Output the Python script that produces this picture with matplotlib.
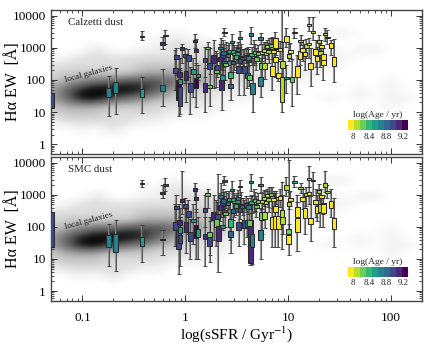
import numpy as np
import matplotlib
matplotlib.use("Agg")
import matplotlib.pyplot as plt
from matplotlib.colors import ListedColormap, BoundaryNorm
from matplotlib.cm import ScalarMappable
from matplotlib.ticker import LogLocator, FuncFormatter, NullFormatter

plt.rcParams['font.family'] = ['Liberation Serif', 'DejaVu Serif']
plt.rcParams['mathtext.fontset'] = 'stix'

density = [
 "0000000000000000000000000",
 "0000000000000000000000000",
 "0000000000000000000000000",
 "0000000010000000001100000",
 "0000000121100000000000000",
 "0002001122221111111011000",
 "0122222222222211111100000",
 "2222223333322211111000000",
 "2333334444332211110000000",
 "3456677765432211100000100",
 "4689998643221111000010100",
 "4699765432211100001010110",
 "3444333222110000000000100",
 "2333222211100000000000000",
 "1222221100000000000000000",
 "0010200000000000000000000",
 "0000000000000000000000000",
 "0000000000000000000000000",
 "0000000000000000000000000",
]

x_cal = [.05,.18,.21,.38,.6,.38,.6,.64,.82,.8,
         .93,1.0,1.07,.86,.89,.89,.88,1.01,1.12,1.24,
         1.2,1.27,1.27,1.33,1.55,1.55,1.72,1.72,1.65,1.88,
         2.0,2.25,2.3,2.15,2.2,2.3,2.05,2.4,2.45,2.5,
         2.74,2.75,2.4,2.9,2.85,3.0,3.3,3.75,3.4,3.5,
         4.0,4.5,4.2,4.35,4.1,4.7,4.9,5.4,5.4,5.5,
         5.9,6.0,6.5,7.0,7.0,7.5,7.5,8.0,8.7,8.8,
         9.6,9.6,10.2,10.9,10.5,11.5,13.2,12.3,13,13.8,
         15,14.5,16.5,16,16,17.5,18.5,19,20,20.5,
         22,21,22.8,22,24,26,28,5.5,6.2,6.8,
         7.6,2.6,3.1,3.6,3.9,
         2.35,2.65,3.25,4.4,4.8,5.1,5.8,6.4,7.2,8.3,
         2.2,2.9,3.4,3.2,4.1]
wlo_cal = [5,7.5,9,9.5,15,1700,900,1350,143,50,
           330,80,120,7.5,9,30,60,20,9,1000,
           30,300,14,100,10,120,150,15,300,55,
           60,12,80,150,350,200,120,250,100,400,
           60,24,2300,380,650,200,35,35,1100,320,
           55,10,65,1300,150,300,200,30,1300,110,
           110,300,350,50,450,400,120,90,10,100,
           1100,40,400,16,500,2000,1200,37,300,400,
           500,200,65,500,3400,1700,250,150,800,250,
           300,500,1600,100,1300,600,87,400,700,800,
           600,300,250,250,330,
           350,400,450,300,350,400,500,450,400,450,
           220,180,200,350,280]
q1_cal = [13,30,40,30,45,2150,1250,2400,440,165,
          840,510,385,24,15,75,125,100,43,1500,
          150,720,55,125,43,360,220,55,950,330,
          165,49,100,400,900,500,200,280,270,600,
          115,55,2900,700,1400,600,165,165,1850,430,
          115,37,100,2400,370,550,400,65,1800,220,
          220,600,750,130,900,1000,360,115,20,235,
          1480,110,500,85,700,2800,1500,125,450,750,
          1000,550,220,1200,4700,3000,600,400,1400,600,
          430,1000,2500,300,2000,1000,270,650,1000,1100,
          800,530,450,420,450,
          620,700,800,560,650,600,750,680,700,780,
          380,310,340,620,420]
q3_cal = [40,55,85,52,70,2400,1500,2600,590,240,
          1030,650,590,100,60,110,175,190,80,1800,
          220,900,115,150,80,470,330,70,1100,590,
          250,100,143,500,1100,700,300,400,330,800,
          175,75,3100,850,1600,700,270,270,2100,560,
          170,80,143,2900,510,700,520,125,2100,330,
          330,800,950,270,1150,2000,510,165,125,380,
          2400,125,650,125,850,3100,1700,270,800,1000,
          1300,750,330,1400,5600,3400,900,550,1700,800,
          650,1200,2800,410,2200,1380,510,800,1200,1300,
          950,650,580,520,620,
          800,850,1000,700,800,750,950,850,880,1000,
          520,400,440,760,540]
whi_cal = [100,130,240,125,220,3300,2100,3600,1000,850,
           1350,1000,950,500,200,240,500,480,250,2700,
           500,1900,350,300,230,1100,1000,230,1500,1700,
           800,300,350,1300,2000,1700,700,1000,700,1500,
           800,410,4000,1600,2700,1200,700,900,3300,1300,
           700,500,480,4300,1100,1700,1000,480,3000,800,
           850,1500,2000,1000,2200,3200,1100,400,20000,1500,
           4000,300,1300,450,1400,4200,2500,590,1500,1700,
           1900,1300,1000,2000,8800,8800,1700,1100,2600,1400,
           1000,1800,4000,1000,3500,1800,1900,1300,1700,2000,
           1500,1200,1100,900,1000,
           1300,1400,1500,1100,1300,1200,1500,1400,1400,1600,
           900,800,850,1200,900]
age_cal = [8.95,8.65,8.65,8.5,8.62,9.1,9.1,8.8,8.95,8.95,
           9.15,8.95,8.95,9.2,8.95,8.5,9.1,9.1,8.95,9.15,
           8.5,9.05,9.2,8.5,9.15,8.95,8.95,8.25,8.3,9.15,
           8.3,9.15,8.5,8.8,8.65,8.95,8.95,8.8,8.3,8.5,
           8.35,8.8,8.95,8.4,8.5,8.2,8.95,8.95,8.5,8.62,
           8.8,8.65,8.3,8.62,9.15,8.1,8.2,8.65,8.65,8.25,
           8.15,8.05,8.0,8.0,8.05,8.0,8.0,8.0,8.1,8.15,
           8.0,8.5,8.1,8.3,8.0,8.35,8.15,8.0,8.0,8.0,
           8.05,8.0,8.0,8.0,8.1,8.15,8.0,8.0,8.1,8.05,
           8.0,8.0,8.05,8.0,8.1,8.0,8.0,8.15,8.1,8.2,
           8.05,8.65,8.35,8.8,9.0,
           8.8,8.5,8.62,8.4,8.3,8.2,8.15,8.05,8.0,8.0,
           9.1,8.8,8.95,8.5,8.65]

x_smc = [.05,.18,.21,.38,.6,.38,.6,.64,.82,.8,
         .93,1.0,1.07,.86,.89,.89,.88,1.01,1.12,1.24,
         1.2,1.27,1.27,1.33,1.55,1.55,1.72,1.72,1.65,1.88,
         2.0,2.1,2.3,2.15,2.2,2.3,2.05,2.4,2.45,2.5,
         2.74,2.75,2.4,2.9,2.85,3.0,3.3,3.75,3.4,3.5,
         4.0,4.3,4.2,4.35,4.45,4.7,4.9,5.4,5.4,5.5,
         5.9,6.0,6.5,7.0,7.0,7.5,7.5,8.0,8.7,8.8,
         9.6,10.1,10.2,10.1,10.5,11.5,13.2,12.3,12.3,13.8,
         15,14.5,16.5,16,16,17.5,18.5,19,20,20.5,
         22,21,22.8,22,24,26,28,5.5,6.2,6.8,
         7.6,2.6,3.1,3.6,3.9,
         2.35,2.65,3.25,4.4,4.8,5.1,5.8,6.4,7.2,8.3,
         2.2,2.9,3.4,3.2,4.1]
wlo_smc = [5.5,6,4.3,8,13,1800,800,1300,100,25,
           250,70,60,3.5,6,30,40,15,10,700,
           30,300,10,10,6,100,8,13,400,40,
           25,4,80,150,350,200,100,200,100,400,
           40,15,2000,350,700,200,25,30,1000,300,
           50,6.5,25,1300,7,300,200,10,1200,60,
           90,250,300,24,400,24,90,24,20,60,
           900,30,350,13,450,1800,1100,18,70,350,
           450,60,37,500,1800,1000,200,150,700,100,
           250,450,1200,100,800,200,24,350,600,700,
           500,280,230,230,300,
           320,350,400,280,320,380,450,420,380,420,
           200,160,170,300,250]
q1_smc = [24,24,17,25,39,2100,1050,1900,360,80,
          600,400,200,21,32,65,115,70,37,1300,
          140,680,45,50,42,300,26,50,950,165,
          100,35,95,350,800,450,170,250,230,550,
          100,50,2500,650,1300,550,80,90,1700,380,
          100,7.3,107,2300,24,500,380,40,1900,165,
          175,500,650,85,750,85,290,85,175,125,
          1400,60,450,30,650,2400,1500,70,200,650,
          900,190,125,1000,3000,2600,500,270,1100,290,
          400,800,1800,280,1100,390,85,550,850,950,
          700,480,400,380,420,
          560,620,700,500,580,540,680,620,640,700,
          340,280,300,550,370]
q3_smc = [295,57,60,50,41,2300,1250,2100,450,140,
          730,510,310,80,57,100,165,140,70,1600,
          175,830,115,85,60,390,57,70,1100,290,
          200,110,115,450,1000,620,260,340,290,700,
          170,75,2900,800,1500,650,140,165,1900,500,
          165,165,165,2600,60,650,480,80,2200,290,
          290,650,800,200,950,215,440,215,330,200,
          2000,85,600,57,800,2700,1700,190,410,850,
          1100,390,190,1200,3300,3000,700,440,1400,510,
          550,1000,2300,500,1350,630,190,700,1050,1150,
          850,600,520,480,570,
          720,780,880,640,730,680,860,780,800,900,
          470,360,390,690,490]
whi_smc = [1000,125,160,115,80,3000,2000,3300,1000,500,
           5700,800,700,500,200,200,400,350,170,2300,
           500,1500,350,200,200,1000,150,200,1500,1000,
           700,4500,300,1100,2300,1500,600,900,700,1300,
           600,350,3800,1500,2600,1100,500,700,3000,1200,
           600,900,400,4500,500,1500,900,400,3500,700,
           800,1300,1700,900,1800,1100,1100,800,2500,1000,
           3500,12000,1200,120,1300,3800,2300,600,1000,1500,
           1700,1000,900,1800,8000,5000,1500,1000,2100,1300,
           900,1500,5700,1000,2000,1500,800,1100,1500,1700,
           1300,1100,1000,800,950,
           1200,1300,1400,1000,1200,1100,1400,1300,1300,1500,
           800,720,780,1100,820]
age_smc = [8.95,8.65,8.65,8.5,8.65,9.1,9.1,8.9,8.95,8.95,
           9.15,8.95,8.95,8.95,8.95,8.5,9.1,9.1,8.95,9.15,
           8.5,9.05,9.2,8.5,9.15,8.95,8.95,8.25,8.3,9.15,
           8.3,9.15,8.5,8.8,8.65,8.95,8.95,8.8,8.3,8.5,
           8.35,8.8,8.95,8.4,8.5,8.2,8.95,8.95,8.5,8.62,
           8.8,9.1,8.3,8.62,8.65,8.1,8.2,8.65,8.65,8.25,
           8.15,8.05,8.0,8.0,8.05,8.0,8.0,8.0,8.1,8.1,
           8.15,8.3,8.1,8.0,8.0,8.35,8.15,8.0,8.0,8.0,
           8.05,8.0,8.0,8.0,8.1,8.15,8.0,8.0,8.1,8.05,
           8.0,8.0,8.05,8.0,8.1,8.0,8.0,8.15,8.1,8.2,
           8.05,8.65,8.35,8.8,9.0,
           8.8,8.5,8.62,8.4,8.3,8.2,8.15,8.05,8.0,8.0,
           9.1,8.8,8.95,8.5,8.65]

panel_names = ["Calzetti dust", "SMC dust"]
xticks = [0.1, 1, 10, 100]
yticks = [1, 10, 100, 1000, 10000]
cbar_ticks = [8, 8.4, 8.8, 9.2]
age_edges = np.linspace(7.88, 9.32, 11)

cmap = ListedColormap(plt.get_cmap('viridis_r')(np.linspace(0, 1, 10)))
norm = BoundaryNorm(age_edges, 10)
XLIM = (0.05, 200)
YLIM = (0.5, 15000)
HW = 0.022   # half box width in dex
INK = '#2a2a2a'

fig = plt.figure(figsize=(4.32, 3.46), dpi=100)
positions = [[.1192, .555, .8578, .416], [.1192, .131, .8578, .415]]
grid = np.array([[int(c) for c in r] for r in density], float)


def panel(pos, name, x, wlo, q1, q3, whi, age, labels):
    bg = fig.add_axes(pos, zorder=0)
    bg.imshow(grid, cmap='Greys', vmin=0, vmax=9, aspect='auto', interpolation='bicubic',
              extent=(-1.375, 2.375, -0.425, 4.325), origin='upper')
    bg.set_xlim(np.log10(XLIM)); bg.set_ylim(np.log10(YLIM)); bg.axis('off')
    ax = fig.add_axes(pos, zorder=1)
    ax.patch.set_alpha(0)
    ax.set_xscale('log'); ax.set_yscale('log')
    ax.set_xlim(XLIM); ax.set_ylim(YLIM)
    x, wlo, q1, q3, whi = map(np.asarray, (x, wlo, q1, q3, whi))
    ax.vlines(x, wlo, whi, color='#8a8a8a', lw=1.5, alpha=.85, zorder=2)
    ax.vlines(x, wlo, whi, color='#333333', lw=.45, zorder=2.1)
    for y in (wlo, whi):
        ax.hlines(y, x*10**-HW*1.005, x*10**HW*.995, color='#333333', lw=.6, zorder=2.1)
    ax.bar(x*10**-HW, q3-q1, width=x*(10**HW-10**-HW), bottom=q1, align='edge',
           color=cmap(norm(age)), edgecolor=INK, linewidth=.75, zorder=3)
    ax.set_xticks(xticks)
    ax.set_yticks(yticks)
    ax.xaxis.set_minor_locator(LogLocator(10, subs=np.arange(2, 10)*.1, numticks=20))
    ax.yaxis.set_minor_locator(LogLocator(10, subs=np.arange(2, 10)*.1, numticks=20))
    ax.xaxis.set_minor_formatter(NullFormatter()); ax.yaxis.set_minor_formatter(NullFormatter())
    ax.yaxis.set_major_formatter(FuncFormatter(lambda v, p: f"{v:g}"))
    ax.xaxis.set_major_formatter(FuncFormatter(lambda v, p: f"{v:g}"))
    ax.tick_params(which='major', direction='in', top=True, right=True, length=4.5, width=.7,
                   color='#333333', labelsize=9.5, pad=4)
    ax.tick_params(which='minor', direction='in', top=True, right=True, length=2.5, width=.6,
                   color='#333333')
    ax.tick_params(axis='x', which='major', pad=8, labelbottom=labels)
    for s in ax.spines.values():
        s.set_linewidth(1.0); s.set_color('#444444')
    ax.set_ylabel("H\u03b1 EW  [\u00c5]", fontsize=11.5)
    ax.yaxis.set_label_coords(-.083, .5)
    ax.text(.0445, .915, name, transform=ax.transAxes, fontsize=7.8, va='center', color='#222222')
    ax.text(.034, .558, "local galaxies", transform=ax.transAxes, fontsize=6.5,
            rotation=15, va='center', color='#222222')
    cax = ax.inset_axes([.800, .167, .162, .069], zorder=5)
    cb = fig.colorbar(ScalarMappable(norm=norm, cmap=cmap), cax=cax, orientation='horizontal',
                      ticks=cbar_ticks, spacing='proportional', drawedges=False)
    cb.ax.set_xticklabels([f"{t:g}" for t in cbar_ticks])
    cb.ax.tick_params(length=0, labelsize=6.5, pad=2, colors='#222222')
    cb.ax.minorticks_off()
    cb.outline.set_visible(False)
    cb.ax.set_title("log(Age / yr)", fontsize=6.8, pad=2, color='#222222')
    return ax


panel(positions[0], panel_names[0], x_cal, wlo_cal, q1_cal, q3_cal, whi_cal, age_cal, False)
ax2 = panel(positions[1], panel_names[1], x_smc, wlo_smc, q1_smc, q3_smc, whi_smc, age_smc, True)
ax2.set_xlabel("log(sSFR / Gyr$^{-1}$)", fontsize=11)
ax2.xaxis.set_label_coords(.5, -.165)
fig.savefig("out.png", dpi=100)
